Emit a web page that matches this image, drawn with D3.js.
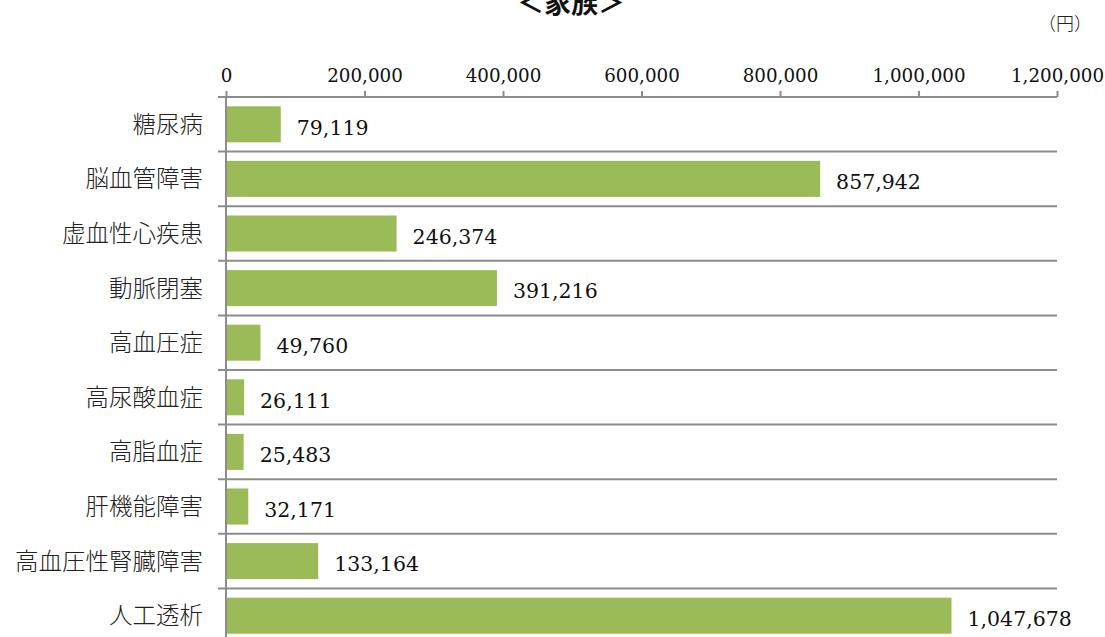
<!DOCTYPE html>
<html>
<head>
<meta charset="utf-8">
<script src="https://cdn.jsdelivr.net/npm/d3@7"></script>
<style>
  html, body { margin: 0; padding: 0; background: #fff; }
  svg { display: block; }
</style>
</head>
<body>
<script>
// Medical cost per disease (family), in yen
const categories = ["糖尿病", "脳血管障害", "虚血性心疾患", "動脈閉塞", "高血圧症", "高尿酸血症", "高脂血症", "肝機能障害", "高血圧性腎臓障害", "人工透析"];
const values = [79119, 857942, 246374, 391216, 49760, 26111, 25483, 32171, 133164, 1047678];
const tickValues = [0, 200000, 400000, 600000, 800000, 1000000, 1200000];
const title = "＜家族＞";
const unit = "（円）";

const W = 1105, H = 637;
const plotLeft = 226, plotRight = 1057, plotTop = 97, band = 54.6;

const svg = d3.select("body").append("svg").attr("width", W).attr("height", H);

const x = d3.scaleLinear().domain([0, 1200000]).range([plotLeft, plotRight]);
const y = d3.scaleBand().domain(categories)
  .range([plotTop, plotTop + band * categories.length])
  .paddingInner(0.34).paddingOuter(0.17);

const fmt = d3.format(",");

// title and unit
svg.append("text").attr("x", 571).attr("y", 13).attr("text-anchor", "middle")
  .attr("font-family", "Noto Sans CJK JP").attr("font-weight", "bold").attr("font-size", 27)
  .attr("fill", "#111").text(title);
svg.append("text").attr("x", 1092).attr("y", 30).attr("text-anchor", "end")
  .attr("font-family", "Noto Sans CJK JP").attr("font-weight", 300).attr("font-size", 18)
  .attr("fill", "#222").text(unit);

// horizontal separators between categories
const seps = d3.range(1, categories.length).map(i => plotTop + band * i);
svg.append("g").selectAll("line").data(seps).join("line")
  .attr("x1", 218).attr("x2", plotRight).attr("y1", d => d).attr("y2", d => d)
  .attr("stroke", "#8c8c8c").attr("stroke-width", 2);

// bars
svg.append("g").selectAll("rect").data(values).join("rect")
  .attr("x", x(0))
  .attr("y", (d, i) => y(categories[i]))
  .attr("width", d => x(d) - x(0))
  .attr("height", y.bandwidth())
  .attr("fill", "#9bbb59");

// top axis
const axis = d3.axisTop(x).tickValues(tickValues).tickFormat(fmt).tickSize(6).tickPadding(9);
const ax = svg.append("g").attr("transform", `translate(0,${plotTop})`).call(axis);
ax.select(".domain").attr("stroke", "#8c8c8c").attr("stroke-width", 2)
  .attr("d", `M218,0H${plotRight}`);
ax.selectAll(".tick line").attr("stroke", "#8c8c8c").attr("stroke-width", 2);
ax.selectAll(".tick text").attr("font-family", "DejaVu Serif").attr("font-size", 18.3).attr("fill", "#111");

// vertical axis line
svg.append("line").attr("x1", plotLeft).attr("x2", plotLeft).attr("y1", plotTop).attr("y2", H)
  .attr("stroke", "#8c8c8c").attr("stroke-width", 2);

// category labels
svg.append("g").selectAll("text").data(categories).join("text")
  .attr("x", 203).attr("y", d => y(d) + y.bandwidth() / 2)
  .attr("dy", "0.36em").attr("text-anchor", "end")
  .attr("font-family", "Noto Sans CJK JP").attr("font-weight", 300).attr("font-size", 23.5).attr("fill", "#222")
  .text(d => d);

// value labels
svg.append("g").selectAll("text").data(values).join("text")
  .attr("x", d => x(d) + 16)
  .attr("y", (d, i) => y(categories[i]) + y.bandwidth() / 2)
  .attr("dy", "0.5em")
  .attr("font-family", "DejaVu Serif").attr("font-size", 20.5).attr("fill", "#111")
  .text(d => fmt(d));
</script>
</body>
</html>
